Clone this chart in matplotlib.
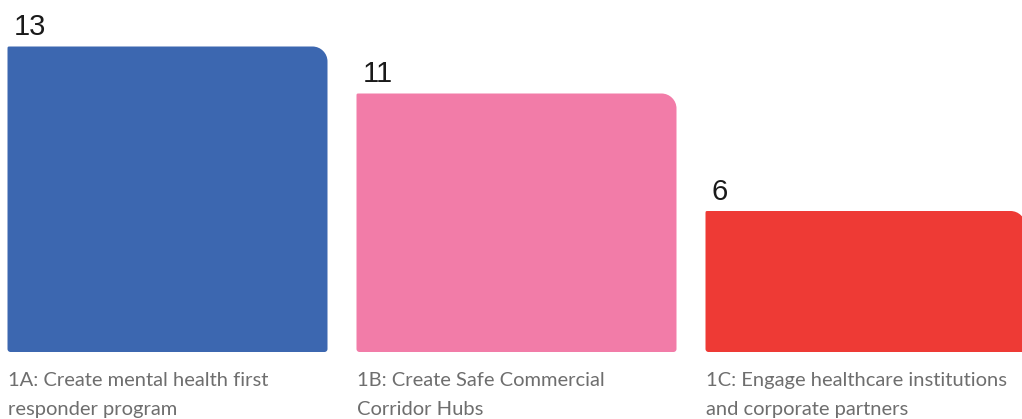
import matplotlib
matplotlib.use("Agg")
import matplotlib.pyplot as plt
from matplotlib.path import Path
from matplotlib.patches import PathPatch

categories = ["1A: Create mental health first\nresponder program",
              "1B: Create Safe Commercial\nCorridor Hubs",
              "1C: Engage healthcare institutions\nand corporate partners"]
values = [13, 11, 6]
colors = ["#3c67b0", "#f27ca8", "#ee3a35"]

W, H, DPI = 1022, 419, 100
fig = plt.figure(figsize=(W / DPI, H / DPI), dpi=DPI)
ax = fig.add_axes([0, 0, 1, 1])
pitch = 349.0
ax.set_xlim(-167.5 / pitch, (W - 167.5) / pitch)
ppu = 23.5
ax.set_ylim(-67 / ppu, 352 / ppu)
ax.axis("off")

width = 320 / pitch
bars = ax.bar(range(len(values)), values, width=width, color=colors)

rx_px = 15
rx = rx_px / pitch
ry = rx_px / ppu
brx, bry = 3 / pitch, 3 / ppu
k = 0.5523
for b, c in zip(bars, colors):
    x0, y0 = b.get_x(), b.get_y()
    x1, y1 = x0 + b.get_width(), y0 + b.get_height()
    b.set_visible(False)
    verts = [
        (x0 + brx, y0),
        (x1 - brx, y0),
        (x1 - brx + k * brx, y0), (x1, y0 + bry - k * bry), (x1, y0 + bry),
        (x1, y1 - ry),
        (x1, y1 - ry + k * ry), (x1 - rx + k * rx, y1), (x1 - rx, y1),
        (x0 + brx, y1),
        (x0, y1), (x0, y1), (x0, y1 - bry),
        (x0, y0 + bry),
        (x0, y0 + bry - k * bry), (x0 + brx - k * brx, y0), (x0 + brx, y0),
        (x0 + brx, y0),
    ]
    codes = [Path.MOVETO, Path.LINETO,
             Path.CURVE4, Path.CURVE4, Path.CURVE4,
             Path.LINETO,
             Path.CURVE4, Path.CURVE4, Path.CURVE4,
             Path.LINETO,
             Path.CURVE4, Path.CURVE4, Path.CURVE4,
             Path.LINETO,
             Path.CURVE4, Path.CURVE4, Path.CURVE4,
             Path.CLOSEPOLY]
    ax.add_patch(PathPatch(Path(verts, codes), facecolor=c, edgecolor="none"))

for b, v, lab in zip(bars, values, categories):
    x0 = b.get_x()
    ax.text(x0 + 6 / pitch, v + 11 / ppu, str(v), ha="left", va="baseline",
            fontsize=21, color="#1a1a1a", family="Liberation Sans")
    ax.text(x0, -20 / ppu, lab, ha="left", va="top", fontsize=14.5,
            color="#6e6e6e", family="Lato", linespacing=1.85)

fig.savefig("out.png", dpi=DPI)
